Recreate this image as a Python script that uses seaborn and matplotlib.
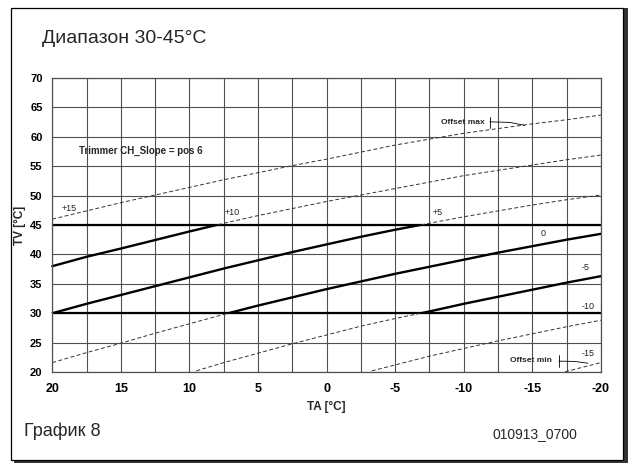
import matplotlib
matplotlib.use('Agg')
import matplotlib.pyplot as plt
from matplotlib.patches import Rectangle
from matplotlib.path import Path
import numpy as np
import pandas as pd
import seaborn as sns

sns.set_style('white')
plt.rcParams['font.family'] = ['Liberation Sans', 'DejaVu Sans']
plt.rcParams['axes.unicode_minus'] = False

# ---------------------------------------------------------------------------------------
# Data (TA = outside temp, TV = flow temp)

ta_p15 = [20, 17.5, 15, 12.5, 10, 7.5, 5, 2.5, 0, -2.5, -5, -7.5, -10, -12.5, -15, -17.5, -20]
tv_p15 = [46.0, 47.4, 48.8, 50.1, 51.4, 52.7, 53.9, 55.1, 56.2, 57.4, 58.6, 59.6, 60.6, 61.4, 62.2, 62.9, 63.7]

ta_p10 = [20, 17.5, 15, 12.5, 10, 7.5, 5, 2.5, 0, -2.5, -5, -7.5, -10, -12.5, -15, -17.5, -20]
tv_p10 = [38.0, 39.6, 41.0, 42.45, 43.9, 45.3, 46.6, 47.8, 49.0, 50.1, 51.2, 52.3, 53.4, 54.3, 55.2, 56.1, 56.9]

ta_p5 = [20, 17.5, 15, 12.5, 10, 7.5, 5, 2.5, 0, -2.5, -5, -7.5, -10, -12.5, -15, -17.5, -20]
tv_p5 = [30.0, 31.6, 33.1, 34.6, 36.1, 37.6, 39.0, 40.4, 41.7, 43.0, 44.2, 45.3, 46.4, 47.4, 48.4, 49.3, 50.1]

ta_0 = [20, 17.5, 15, 12.5, 10, 7.5, 5, 2.5, 0, -2.5, -5, -7.5, -10, -12.5, -15, -17.5, -20]
tv_0 = [21.6, 23.3, 24.9, 26.6, 28.2, 29.8, 31.3, 32.7, 34.1, 35.4, 36.7, 37.9, 39.1, 40.3, 41.4, 42.5, 43.5]

ta_m5 = [9.5, 7.5, 5, 2.5, 0, -2.5, -5, -7.5, -10, -12.5, -15, -17.5, -20]
tv_m5 = [20.2, 21.6, 23.2, 24.8, 26.3, 27.8, 29.1, 30.3, 31.6, 32.8, 34.0, 35.2, 36.3]

ta_m10 = [-3.3, -5, -7.5, -10, -12.5, -15, -17.5, -20]
tv_m10 = [20.2, 21.2, 22.7, 24.0, 25.3, 26.5, 27.7, 28.8]

ta_m15 = [-17.4, -20]
tv_m15 = [20.05, 21.6]

offset_labels = ['+15', '+10', '+5', '0', '-5', '-10', '-15']
x_ticks = [20, 15, 10, 5, 0, -5, -10, -15, -20]
y_ticks = [20, 25, 30, 35, 40, 45, 50, 55, 60, 65, 70]
band_low, band_high = 30, 45

curves = [(ta_p15, tv_p15), (ta_p10, tv_p10), (ta_p5, tv_p5), (ta_0, tv_0),
          (ta_m5, tv_m5), (ta_m10, tv_m10), (ta_m15, tv_m15)]

# ---------------------------------------------------------------------------------------
# Figure

fig = plt.figure(figsize=(6.28, 4.63), dpi=100)
ax = fig.add_axes([0.0833, 0.1965, 0.8735, 0.635])

ax.set_xlim(20, -20)
ax.set_ylim(20, 70)
ax.set_xticks(x_ticks)
ax.set_xticks(np.arange(-20, 20.1, 2.5), minor=True)
ax.set_yticks(y_ticks)
ax.grid(True, which='both', color='#505050', linewidth=0.8)
ax.set_axisbelow(True)

ax.axhline(band_low, color='black', linewidth=1.6)
ax.axhline(band_high, color='black', linewidth=1.6)

# clip regions: solid inside the 30-45 band, dashed outside
band_clip = Rectangle((-25, band_low), 50, band_high - band_low, transform=ax.transData)
outside_path = Path.make_compound_path(
    Path([(-25, 15), (25, 15), (25, band_low), (-25, band_low), (-25, 15)], closed=True),
    Path([(-25, band_high), (25, band_high), (25, 75), (-25, 75), (-25, band_high)], closed=True),
)

for ta, tv in curves:
    df = pd.DataFrame({'TA': ta, 'TV': tv})
    n = len(ax.lines)
    sns.lineplot(data=df, x='TA', y='TV', sort=False, ax=ax, color='#333333',
                 linewidth=0.7, linestyle=(0, (4, 2.5)))
    ax.lines[n].set_clip_path(outside_path, ax.transData)
    n = len(ax.lines)
    sns.lineplot(data=df, x='TA', y='TV', sort=False, ax=ax, color='black', linewidth=1.7)
    ax.lines[n].set_clip_path(band_clip)

label_pos = [(18.8, 47.8), (6.9, 47.1), (-8.1, 47.2), (-15.8, 43.6),
             (-18.9, 37.8), (-19.1, 31.1), (-19.1, 23.2)]
for lab, (x, y) in zip(offset_labels, label_pos):
    ax.text(x, y, lab, fontsize=6.5, ha='center', va='center', color='#222222')

ax.text(18.05, 57.6, 'Trimmer CH_Slope = pos 6', fontsize=7, fontweight='bold',
        ha='left', va='center')

# Offset max / min markers
ax.text(-11.5, 62.5, 'Offset max', fontsize=6, fontweight='bold', ha='right', va='center')
ax.plot([-11.9, -11.9], [61.5, 63.4], color='black', linewidth=0.6)
ax.plot([-11.9, -13.36, -14.45], [62.55, 62.45, 61.95], color='black', linewidth=0.6)
ax.text(-16.45, 21.9, 'Offset min', fontsize=6, fontweight='bold', ha='right', va='center')
ax.plot([-16.93, -16.93], [20.85, 22.9], color='black', linewidth=0.6)
ax.plot([-16.93, -18.1, -19.05], [21.85, 21.8, 21.5], color='black', linewidth=0.6)

ax.tick_params(axis='x', labelsize=9, length=3, pad=5, colors='black')
ax.tick_params(axis='y', labelsize=8, length=3, pad=4, colors='black')
ax.tick_params(which='minor', length=0)
for lab in ax.get_xticklabels() + ax.get_yticklabels():
    lab.set_fontweight('bold')
for s in ax.spines.values():
    s.set_color('#505050')
    s.set_linewidth(0.9)

ax.set_xlabel('TA [°C]', fontsize=8.5, fontweight='bold', labelpad=4)
ax.set_ylabel('TV [°C]', fontsize=8.5, fontweight='bold', labelpad=3)

# page texts
fig.text(0.0669, 0.9158, 'Диапазон 30-45°C', fontsize=14, ha='left', va='center')
fig.text(0.038, 0.0691, 'График 8', fontsize=13, ha='left', va='center')
fig.text(0.785, 0.0626, '010913_0700', fontsize=10, ha='left', va='center')

# page frame with a drop shadow on the right and bottom
W, H = 628, 463
fig.add_artist(Rectangle((623 / W, 0), 4.5 / W, 455 / H, transform=fig.transFigure,
                         facecolor='#333333', edgecolor='none'))
fig.add_artist(Rectangle((14 / W, 0), 613 / W, 3.5 / H, transform=fig.transFigure,
                         facecolor='#333333', edgecolor='none'))
fig.add_artist(Rectangle((11 / W, 3.5 / H), 612 / W, 451.5 / H, transform=fig.transFigure,
                         facecolor='none', edgecolor='black', linewidth=0.9))

fig.savefig('out.png', dpi=100)
